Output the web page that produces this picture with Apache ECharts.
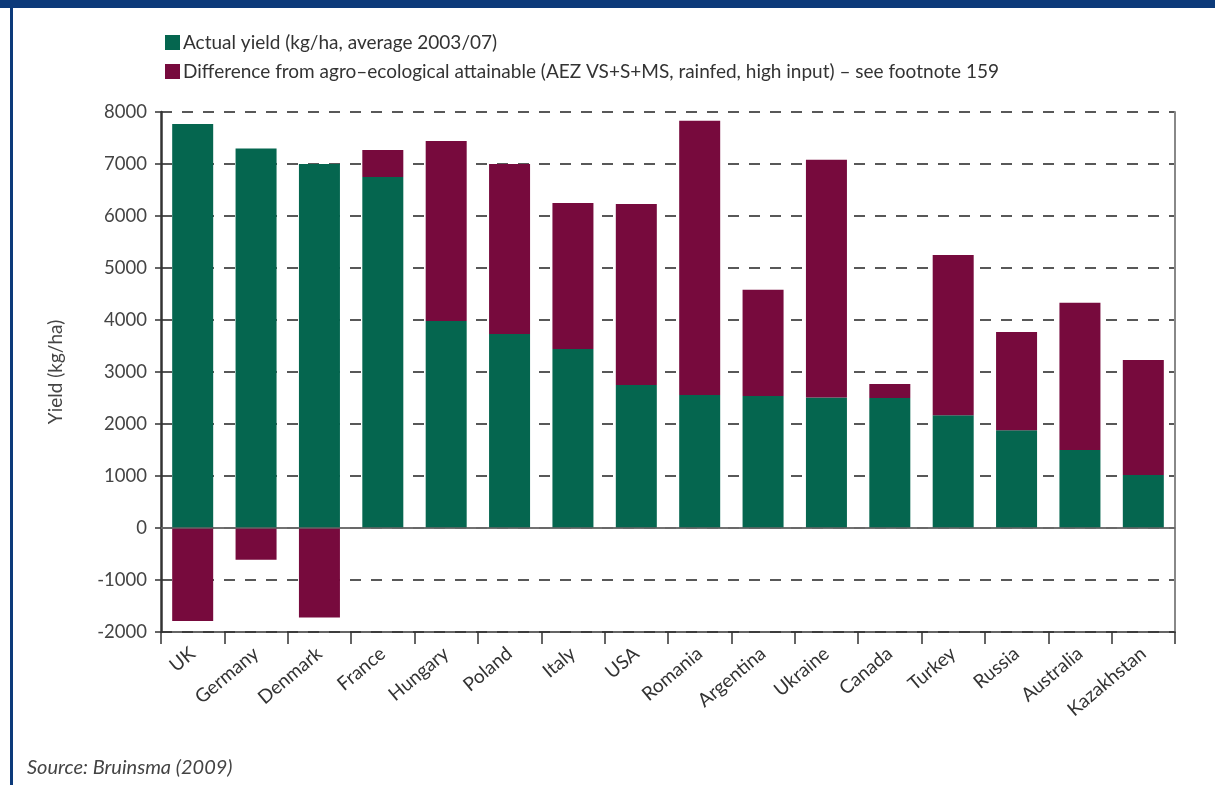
<!DOCTYPE html>
<html>
<head>
<meta charset="utf-8">
<script src="https://cdn.jsdelivr.net/npm/echarts@6/dist/echarts.min.js"></script>
<style>
html,body{margin:0;padding:0;background:#fff;}
#c{width:1215px;height:785px;}
</style>
</head>
<body>
<div id="c"></div>
<script>
const categories = ['UK','Germany','Denmark','France','Hungary','Poland','Italy','USA','Romania','Argentina','Ukraine','Canada','Turkey','Russia','Australia','Kazakhstan'];
const actualYield = [7770, 7300, 7000, 6750, 3980, 3730, 3440, 2750, 2560, 2540, 2510, 2500, 2170, 1880, 1500, 1020];
const difference = [-1790, -610, -1720, 520, 3460, 3270, 2810, 3480, 5270, 2040, 4570, 270, 3080, 1890, 2830, 2210];
const yTicks = {min: -2000, max: 8000, interval: 1000};
const seriesNames = ['Actual yield (kg/ha, average 2003/07)', 'Difference from agro\u2013ecological attainable (AEZ VS+S+MS, rainfed, high input) \u2013 see footnote 159'];

const FONT = 'Lato, "Open Sans", sans-serif';
const chart = echarts.init(document.getElementById('c'), null, {renderer: 'canvas'});
chart.setOption({
  animation: false,
  backgroundColor: '#fff',
  textStyle: {fontFamily: FONT},
  grid: {left: 161, top: 112, width: 1014, height: 520, containLabel: false},
  legend: {
    orient: 'vertical', left: 160, top: 28, icon: 'rect', itemWidth: 15, itemHeight: 15, itemGap: 10,
    textStyle: {fontFamily: FONT, fontSize: 19, color: '#333', padding: [0,0,0,-2]},
    data: seriesNames
  },
  graphic: [
    {type: 'rect', left: 0, top: 0, shape: {width: 1215, height: 8}, style: {fill: '#0c3a7a'}, z: 100},
    {type: 'rect', left: 10, top: 0, shape: {width: 3, height: 785}, style: {fill: '#0c3a7a'}, z: 100},
    {type: 'text', left: 27, top: 758, style: {text: 'Source: Bruinsma (2009)', font: 'italic 20px ' + FONT, fill: '#444'}, z: 100}
  ],
  xAxis: [
    {
      type: 'category', data: categories, position: 'bottom',
      axisLine: {onZero: false, lineStyle: {color: '#333', width: 1.5}},
      axisTick: {show: true, length: 12, lineStyle: {color: '#333', width: 1.5}},
      axisLabel: {rotate: 40, margin: 19, fontSize: 19, color: '#333', fontFamily: FONT, interval: 0},
      splitLine: {show: false}
    },
    {
      type: 'category', data: categories, position: 'top',
      axisLine: {show: true, lineStyle: {color: '#777', width: 1.5}},
      axisTick: {show: false}, axisLabel: {show: false}, splitLine: {show: false}
    }
  ],
  yAxis: [
    {
      type: 'value', min: yTicks.min, max: yTicks.max, interval: yTicks.interval,
      name: 'Yield (kg/ha)', nameLocation: 'middle', nameGap: 96,
      nameTextStyle: {fontSize: 19, color: '#444', fontFamily: FONT},
      axisLine: {show: true, lineStyle: {color: '#333', width: 2.5}},
      axisTick: {show: true, length: 6, lineStyle: {color: '#333', width: 1.5}},
      axisLabel: {fontSize: 18.5, color: '#444', margin: 14, fontFamily: FONT, formatter: v => String(v)},
      splitLine: {show: true, lineStyle: {color: '#222', width: 1.5, type: [11, 10]}}
    },
    {
      type: 'value', min: yTicks.min, max: yTicks.max, interval: yTicks.interval, position: 'right',
      axisLine: {show: true, lineStyle: {color: '#888', width: 2}},
      axisTick: {show: false}, axisLabel: {show: false}, splitLine: {show: false}
    }
  ],
  series: [
    {
      name: seriesNames[0], type: 'bar', stack: 'y', data: actualYield, barWidth: 41,
      itemStyle: {color: '#05664f'},
      markLine: {
        silent: true, symbol: 'none', label: {show: false},
        lineStyle: {color: '#666', width: 1.5, type: 'solid'},
        data: [{yAxis: 0}]
      }
    },
    {
      name: seriesNames[1], type: 'bar', stack: 'y', data: difference, barWidth: 41,
      itemStyle: {color: '#770a3d'}
    }
  ]
});
</script>
</body>
</html>
